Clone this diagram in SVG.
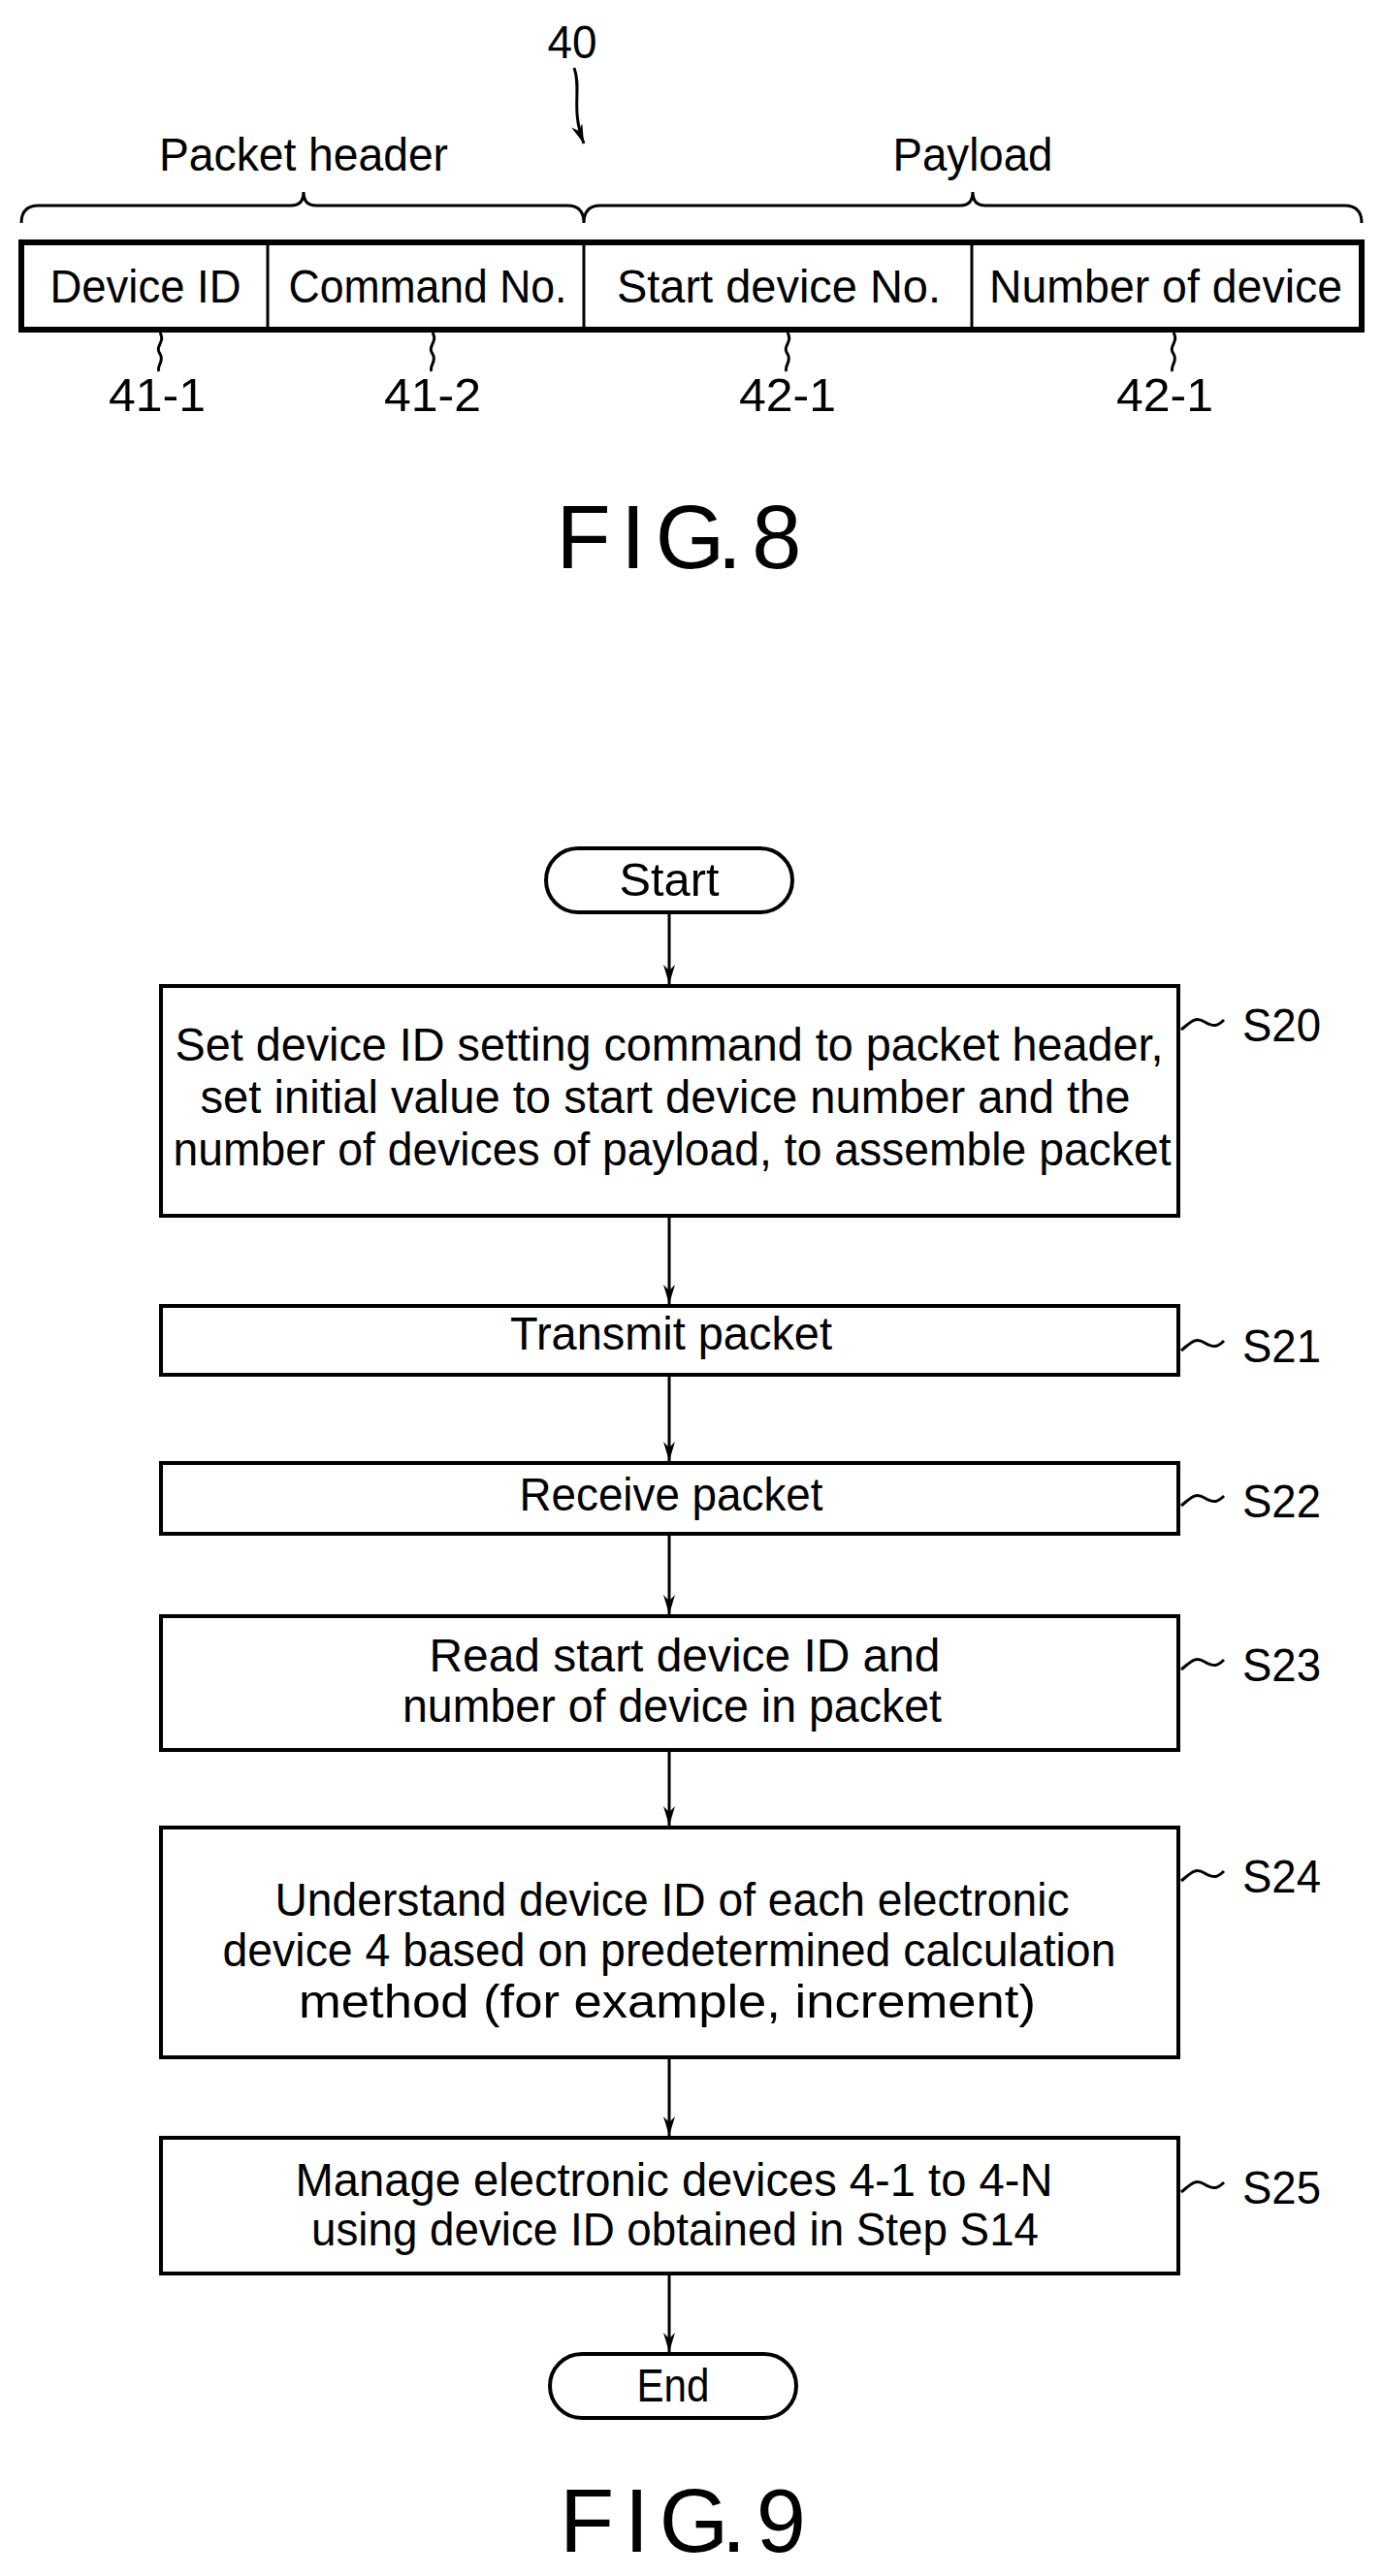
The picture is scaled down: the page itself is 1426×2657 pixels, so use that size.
<svg xmlns="http://www.w3.org/2000/svg" width="1426" height="2657" viewBox="0 0 1426 2657">
<style>
text{font-family:"Liberation Sans",Arial,sans-serif;fill:#000;text-anchor:middle}
.t{font-size:48px}
.s{font-size:48px;text-anchor:start}
.f{font-size:92px}
.b{fill:#fff;stroke:#000;stroke-width:4}
.l{fill:none;stroke:#000;stroke-width:3}
.c{fill:none;stroke:#000;stroke-width:3;marker-end:url(#a)}
</style>
<defs><marker id="a" markerWidth="20" markerHeight="12" refX="20" refY="6" orient="auto" markerUnits="userSpaceOnUse" viewBox="0 0 20 12"><path d="M0,0 L20,6 L0,12 L6,6 Z" fill="#000"/></marker></defs>
<g id="fig8">
<text class="t" x="590" y="60" textLength="51" lengthAdjust="spacingAndGlyphs">40</text>
<path class="c" d="M592,70 C600,92 588,112 602,148"/>
<text class="t" x="313" y="176" textLength="298" lengthAdjust="spacingAndGlyphs">Packet header</text>
<text class="t" x="1003" y="176" textLength="165" lengthAdjust="spacingAndGlyphs">Payload</text>
<path class="l" d="M22,230 Q22,212 40,212 L300,212 Q313,212 313,198 Q313,212 326,212 L585,212 Q602,212 602,230 Q602,212 619,212 L990,212 Q1003,212 1003,198 Q1003,212 1016,212 L1386,212 Q1404,212 1404,230"/>
<rect x="22" y="250" width="1382" height="90" fill="#fff" stroke="#000" stroke-width="6"/>
<path class="l" d="M276,250V340M602,250V340M1002,250V340"/>
<text class="t" x="150" y="312" textLength="197" lengthAdjust="spacingAndGlyphs">Device ID</text>
<text class="t" x="441" y="312" textLength="287" lengthAdjust="spacingAndGlyphs">Command No.</text>
<text class="t" x="803" y="312" textLength="334" lengthAdjust="spacingAndGlyphs">Start device No.</text>
<text class="t" x="1202" y="312" textLength="364" lengthAdjust="spacingAndGlyphs">Number of device</text>
<path class="l" d="M165,343 c6,10 -6,14 0,22 c5,8 -4,12 -1,18 M446,343 c6,10 -6,14 0,22 c5,8 -4,12 -1,18 M812,343 c6,10 -6,14 0,22 c5,8 -4,12 -1,18 M1210,343 c6,10 -6,14 0,22 c5,8 -4,12 -1,18"/>
<text class="t" x="162" y="424" textLength="100" lengthAdjust="spacingAndGlyphs">41-1</text>
<text class="t" x="446" y="424" textLength="100" lengthAdjust="spacingAndGlyphs">41-2</text>
<text class="t" x="812" y="424" textLength="100" lengthAdjust="spacingAndGlyphs">42-1</text>
<text class="t" x="1201" y="424" textLength="100" lengthAdjust="spacingAndGlyphs">42-1</text>
<text class="f" x="700" y="586" textLength="253" lengthAdjust="spacing">F I G. 8</text>
</g>
<g id="connectors">
<path class="c" d="M690,941V1015"/>
<path class="c" d="M690,1254V1345"/>
<path class="c" d="M690,1418V1507"/>
<path class="c" d="M690,1582V1665"/>
<path class="c" d="M690,1805V1883"/>
<path class="c" d="M690,2122V2203"/>
<path class="c" d="M690,2345V2426"/>
</g>
<g id="start"><rect class="b" x="563" y="875" width="254" height="66" rx="33"/><text class="t" x="690" y="924" textLength="103" lengthAdjust="spacingAndGlyphs">Start</text></g>
<g id="S20"><rect class="b" x="166" y="1017" width="1049" height="237"/>
<text class="t" x="690" y="1094" textLength="1019" lengthAdjust="spacingAndGlyphs">Set device ID setting command to packet header,</text>
<text class="t" x="686" y="1148" textLength="959" lengthAdjust="spacingAndGlyphs">set initial value to start device number and the</text>
<text class="t" x="693" y="1202" textLength="1029" lengthAdjust="spacingAndGlyphs">number of devices of payload, to assemble packet</text>
<path class="l" d="M1218,1062 c10,-8 14,-14 24,-8 c10,6 14,4 20,-2"/><text class="s" x="1281" y="1074" textLength="81" lengthAdjust="spacingAndGlyphs">S20</text></g>
<g id="S21"><rect class="b" x="166" y="1347" width="1049" height="71"/>
<text class="t" x="692" y="1392" textLength="332" lengthAdjust="spacingAndGlyphs">Transmit packet</text>
<path class="l" d="M1218,1393 c10,-8 14,-14 24,-8 c10,6 14,4 20,-2"/><text class="s" x="1281" y="1405" textLength="81" lengthAdjust="spacingAndGlyphs">S21</text></g>
<g id="S22"><rect class="b" x="166" y="1509" width="1049" height="73"/>
<text class="t" x="692" y="1558" textLength="313" lengthAdjust="spacingAndGlyphs">Receive packet</text>
<path class="l" d="M1218,1553 c10,-8 14,-14 24,-8 c10,6 14,4 20,-2"/><text class="s" x="1281" y="1565" textLength="81" lengthAdjust="spacingAndGlyphs">S22</text></g>
<g id="S23"><rect class="b" x="166" y="1667" width="1049" height="138"/>
<text class="t" x="706" y="1724" textLength="527" lengthAdjust="spacingAndGlyphs">Read start device ID and</text>
<text class="t" x="693" y="1776" textLength="556" lengthAdjust="spacingAndGlyphs">number of device in packet</text>
<path class="l" d="M1218,1722 c10,-8 14,-14 24,-8 c10,6 14,4 20,-2"/><text class="s" x="1281" y="1734" textLength="81" lengthAdjust="spacingAndGlyphs">S23</text></g>
<g id="S24"><rect class="b" x="166" y="1885" width="1049" height="237"/>
<text class="t" x="693" y="1976" textLength="819" lengthAdjust="spacingAndGlyphs">Understand device ID of each electronic</text>
<text class="t" x="690" y="2028" textLength="921" lengthAdjust="spacingAndGlyphs">device 4 based on predetermined calculation</text>
<text class="t" x="688" y="2081" textLength="760" lengthAdjust="spacingAndGlyphs">method (for example, increment)</text>
<path class="l" d="M1218,1940 c10,-8 14,-14 24,-8 c10,6 14,4 20,-2"/><text class="s" x="1281" y="1952" textLength="81" lengthAdjust="spacingAndGlyphs">S24</text></g>
<g id="S25"><rect class="b" x="166" y="2205" width="1049" height="140"/>
<text class="t" x="695" y="2265" textLength="781" lengthAdjust="spacingAndGlyphs">Manage electronic devices 4-1 to 4-N</text>
<text class="t" x="696" y="2316" textLength="750" lengthAdjust="spacingAndGlyphs">using device ID obtained in Step S14</text>
<path class="l" d="M1218,2261 c10,-8 14,-14 24,-8 c10,6 14,4 20,-2"/><text class="s" x="1281" y="2273" textLength="81" lengthAdjust="spacingAndGlyphs">S25</text></g>
<g id="end"><rect class="b" x="567" y="2428" width="254" height="66" rx="33"/><text class="t" x="694" y="2477" textLength="75" lengthAdjust="spacingAndGlyphs">End</text></g>
<text class="f" x="704" y="2632" textLength="254" lengthAdjust="spacing">F I G. 9</text>
</svg>
